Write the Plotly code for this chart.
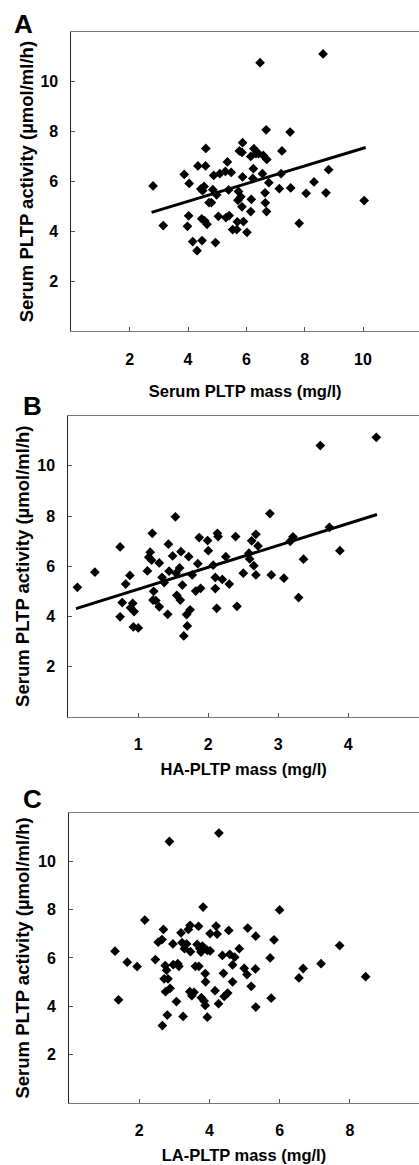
import plotly.graph_objects as go

# ---------------- data ----------------
# Panel A: serum PLTP mass (mg/l) vs serum PLTP activity
a_mass = [2.80, 3.15, 3.87, 4.04, 4.02, 3.98, 4.16, 4.31, 4.48, 4.34, 4.60, 4.61, 4.44, 4.55, 4.50,
          4.47, 4.57, 4.65, 4.72, 4.80, 4.85, 4.94, 4.88, 4.98, 5.04, 5.09, 5.28, 5.35, 5.30, 5.41,
          5.39, 5.48, 5.53, 5.67, 5.69, 5.73, 5.71, 5.76, 5.87, 5.85, 5.81, 5.85, 5.90, 5.87, 6.02,
          6.15, 6.17, 6.15, 6.26, 6.33, 6.24, 6.22, 6.47, 6.42, 6.55, 6.58, 6.64, 6.65, 6.69, 6.68,
          6.70, 6.77, 7.13, 7.22, 7.19, 7.52, 7.50, 7.81, 8.05, 8.32, 8.63, 8.73, 8.82, 10.04]
a_act = [5.83, 4.24, 6.29, 5.93, 4.63, 4.21, 3.60, 3.23, 3.64, 6.63, 6.63, 7.33, 5.71, 5.81, 5.64,
         4.51, 4.43, 4.29, 5.16, 5.16, 5.68, 3.56, 6.25, 5.47, 4.61, 6.32, 6.41, 6.79, 4.56, 4.64,
         5.67, 6.37, 4.08, 4.08, 4.39, 5.61, 5.25, 7.23, 7.56, 7.17, 5.39, 4.99, 4.40, 6.19, 3.97,
         4.80, 5.29, 7.01, 7.32, 7.12, 6.52, 6.13, 10.77, 7.12, 6.32, 7.05, 5.55, 5.15, 4.80, 8.08,
         6.89, 5.96, 5.72, 7.23, 6.32, 5.75, 7.99, 4.33, 5.53, 5.99, 11.12, 5.55, 6.48, 5.24]
a_fit_x = [2.75, 10.09]
a_fit_y = [4.77, 7.37]

# Panel B: HA-PLTP mass (mg/l) vs serum PLTP activity
b_mass = [0.13, 0.38, 0.74, 0.74, 0.77, 0.82, 0.88, 0.89, 0.92, 0.94, 0.93, 1.00, 1.13, 1.15, 1.17,
          1.19, 1.20, 1.22, 1.21, 1.25, 1.30, 1.30, 1.34, 1.37, 1.42, 1.43, 1.44, 1.49, 1.53, 1.54,
          1.55, 1.59, 1.60, 1.61, 1.63, 1.65, 1.70, 1.69, 1.72, 1.74, 1.77, 1.82, 1.85, 1.87, 1.89,
          1.99, 2.00, 2.07, 2.10, 2.10, 2.12, 2.13, 2.14, 2.20, 2.25, 2.30, 2.39, 2.41, 2.50, 2.58,
          2.59, 2.62, 2.65, 2.68, 2.68, 2.71, 2.88, 2.90, 3.08, 3.17, 3.21, 3.29, 3.36, 3.60, 3.73,
          3.88, 4.40]
b_act = [5.16, 5.76, 6.77, 3.98, 4.55, 5.29, 5.63, 4.34, 4.52, 4.19, 3.58, 3.54, 5.81, 6.36, 6.56,
         6.24, 7.31, 5.00, 4.65, 4.63, 4.38, 6.13, 5.55, 5.35, 4.08, 6.88, 5.80, 6.41, 7.97, 5.72,
         4.84, 5.93, 4.65, 6.58, 5.25, 3.22, 3.62, 4.07, 6.38, 4.26, 5.65, 5.01, 6.10, 7.14, 5.12,
         7.02, 6.62, 6.04, 5.55, 5.11, 4.32, 7.31, 7.18, 5.47, 6.38, 5.29, 7.18, 4.40, 5.72, 6.52,
         6.29, 7.01, 6.02, 7.27, 5.65, 6.81, 8.10, 5.65, 5.52, 6.99, 7.17, 4.75, 6.28, 10.81, 7.55,
         6.62, 11.14]
b_fit_x = [0.11, 4.41]
b_fit_y = [4.31, 8.06]

# Panel C: LA-PLTP mass (mg/l) vs serum PLTP activity
c_mass = [1.31, 1.41, 1.66, 1.94, 2.16, 2.46, 2.54, 2.65, 2.66, 2.69, 2.71, 2.74, 2.75, 2.78, 2.80,
          2.82, 2.86, 2.88, 2.96, 2.97, 3.06, 3.10, 3.13, 3.19, 3.22, 3.25, 3.29, 3.35, 3.40, 3.45,
          3.46, 3.44, 3.50, 3.56, 3.60, 3.65, 3.69, 3.70, 3.73, 3.76, 3.77, 3.80, 3.82, 3.85, 3.88,
          3.88, 3.89, 3.94, 3.94, 4.02, 4.02, 4.16, 4.19, 4.22, 4.26, 4.27, 4.37, 4.40, 4.42, 4.52,
          4.55, 4.58, 4.66, 4.66, 4.72, 4.85, 4.99, 5.07, 5.09, 5.19, 5.31, 5.32, 5.32, 5.73, 5.76,
          5.84, 6.00, 6.55, 6.67, 7.18, 7.71, 8.45]
c_act = [6.28, 4.26, 5.82, 5.64, 7.57, 5.93, 6.65, 6.76, 3.19, 7.18, 5.13, 5.68, 4.60, 5.49, 3.63,
         5.13, 10.83, 4.74, 6.58, 5.72, 4.19, 5.76, 5.65, 7.04, 6.63, 3.57, 6.38, 6.58, 7.18, 7.35,
         6.26, 4.60, 4.43, 4.57, 5.65, 6.56, 7.31, 5.65, 6.38, 6.24, 4.35, 6.49, 8.11, 4.21, 5.35,
         4.03, 5.01, 6.31, 3.54, 7.01, 6.29, 4.64, 7.32, 6.99, 4.10, 11.18, 6.10, 5.36, 4.40, 4.54,
         7.14, 6.15, 5.71, 5.01, 6.03, 6.38, 5.57, 5.31, 7.24, 4.82, 5.54, 3.96, 6.90, 6.00, 4.33,
         6.75, 7.99, 5.17, 5.56, 5.76, 6.51, 5.22]

y_ticks = [2, 4, 6, 8, 10]
a_xticks = [2, 4, 6, 8, 10]
b_xticks = [1, 2, 3, 4]
c_xticks = [2, 4, 6, 8]

y_title = "Serum PLTP activity (µmol/ml/h)"
x_titles = ["Serum PLTP mass (mg/l)", "HA-PLTP mass (mg/l)", "LA-PLTP mass (mg/l)"]
panel_letters = ["A", "B", "C"]

# ---------------- layout geometry ----------------
W, H = 419, 1165
FONT = "Arial, 'Liberation Sans', Helvetica, sans-serif"

def yd(top_px, bottom_px):
    return [1 - bottom_px / H, 1 - top_px / H]

panels = [
    dict(x=a_mass, y=a_act, fx=a_fit_x, fy=a_fit_y, xt=a_xticks, xstand=18, ystand=1,
         xdom=[71.4 / W, 1.0], xrange=[0, 11.92], ydom=yd(32, 331.3), letter_y=24, letter_x=23),
    dict(x=b_mass, y=b_act, fx=b_fit_x, fy=b_fit_y, xt=b_xticks, xstand=11, ystand=2,
         xdom=[68.3 / W, 1.0], xrange=[0, 5.01], ydom=yd(415.7, 716.7), letter_y=406, letter_x=32),
    dict(x=c_mass, y=c_act, fx=None, fy=None, xt=c_xticks, xstand=11, ystand=3,
         xdom=[69.0 / W, 1.0], xrange=[0, 9.97], ydom=yd(813.3, 1102.5), letter_y=799, letter_x=32),
]

fig = go.Figure()
annotations = []
for i, p in enumerate(panels):
    n = "" if i == 0 else str(i + 1)
    xa, ya = "x" + n, "y" + n
    fig.add_trace(go.Scatter(
        x=p["x"], y=p["y"], mode="markers", xaxis=xa, yaxis=ya,
        marker=dict(symbol="diamond", size=7.5, color="black", line=dict(width=0)),
        showlegend=False, cliponaxis=False))
    if p["fx"] is not None:
        fig.add_trace(go.Scatter(
            x=p["fx"], y=p["fy"], mode="lines", xaxis=xa, yaxis=ya,
            line=dict(color="black", width=3), showlegend=False))
    axis_common = dict(
        showgrid=False, zeroline=False, showline=True,
        ticks="inside", ticklen=4, tickwidth=1, tickcolor="#555",
        tickfont=dict(family=FONT, size=16, color="black", weight="bold"),
    )
    fig.layout["xaxis" + n] = dict(
        axis_common, domain=p["xdom"], range=p["xrange"], anchor=ya,
        tickvals=p["xt"], linecolor="#777", linewidth=1, mirror=True,
        ticklabelstandoff=13,
        title=dict(text=x_titles[i], standoff=p["xstand"],
                   font=dict(family=FONT, size=16.5, color="black", weight="bold")))
    fig.layout["yaxis" + n] = dict(
        axis_common, domain=p["ydom"], range=[0, 12], anchor=xa,
        tickvals=y_ticks, linecolor="#222", linewidth=1, mirror=False,
        ticklabelstandoff=9,
        title=dict(text=y_title, standoff=p["ystand"],
                   font=dict(family=FONT, size=18.5, color="black", weight="bold")))
    annotations.append(dict(
        text=panel_letters[i], xref="paper", yref="paper",
        x=p["letter_x"] / W, y=1 - p["letter_y"] / H, xanchor="center", yanchor="middle",
        showarrow=False, font=dict(family=FONT, size=26, color="black", weight="bold")))

fig.update_layout(
    width=W, height=H, margin=dict(l=0, r=0, t=0, b=0),
    paper_bgcolor="white", plot_bgcolor="white",
    annotations=annotations,
)

fig.write_html("out.html")
